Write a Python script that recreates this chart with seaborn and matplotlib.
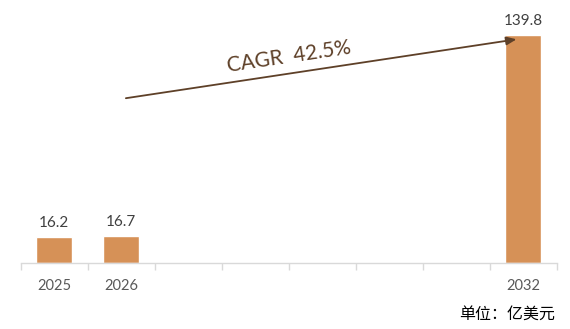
import matplotlib
matplotlib.use("Agg")
import matplotlib.pyplot as plt
import seaborn as sns
import pandas as pd

# ---- data ----
years = ["2025", "2026", "2027", "2028", "2029", "2030", "2031", "2032"]
tick_labels = ["2025", "2026", "", "", "", "", "", "2032"]
data_years = ["2025", "2026", "2032"]
values = [16.2, 16.7, 139.8]
cagr_text = "CAGR  42.5%"
unit_text = "单位：亿美元"

sns.set_style("white")
plt.rcParams["font.family"] = ["Lato", "Noto Sans CJK SC", "DejaVu Sans"]

df = pd.DataFrame({"year": data_years, "value": values})

fig = plt.figure(figsize=(5.7, 3.29), dpi=100)
left_px, right_px, bottom_px, top_px = 20.7, 556.7, 263.3, 18.6
ax = fig.add_axes([left_px / 570, 1 - bottom_px / 329,
                   (right_px - left_px) / 570, (bottom_px - top_px) / 329])

sns.barplot(data=df, x="year", y="value", order=years, color="#D69157",
            saturation=1, width=0.54, ax=ax)

for c in ax.containers:
    ax.bar_label(c, fmt="%.1f", padding=5, fontsize=11, color="#404040")

ax.set_xlim(-0.5, len(years) - 0.5)
ax.set_ylim(0, 150)
ax.set_xlabel("")
ax.set_ylabel("")
ax.set_yticks([])
ax.set_xticks(range(len(years)))
ax.set_xticklabels(tick_labels, fontsize=10.5, color="#595959")
ax.tick_params(axis="x", which="major", length=0, pad=11)
ax.set_xticks([i - 0.5 for i in range(len(years) + 1)], minor=True)
ax.tick_params(axis="x", which="minor", bottom=True, length=5, width=1,
               color="#D9D9D9")

for s in ["top", "right", "left"]:
    ax.spines[s].set_visible(False)
ax.spines["bottom"].set_color("#D9D9D9")
ax.spines["bottom"].set_linewidth(1)

# CAGR arrow
ax.annotate("", xy=(6.9, 137.3), xytext=(1.07, 101.2),
            arrowprops=dict(arrowstyle="-|>,head_length=0.6,head_width=0.25",
                            color="#5E4028", lw=1.3, shrinkA=0, shrinkB=0))
ax.text(3.5, 126.3, cagr_text, rotation=8.5, rotation_mode="anchor",
        ha="center", va="center", fontsize=15, color="#5E4028")

fig.text(555 / 570, 1 - 314 / 329, unit_text, ha="right", va="center",
         fontsize=11.5, color="#000000", family=["Noto Sans CJK SC", "DejaVu Sans"])

fig.savefig("out.png", dpi=100)
